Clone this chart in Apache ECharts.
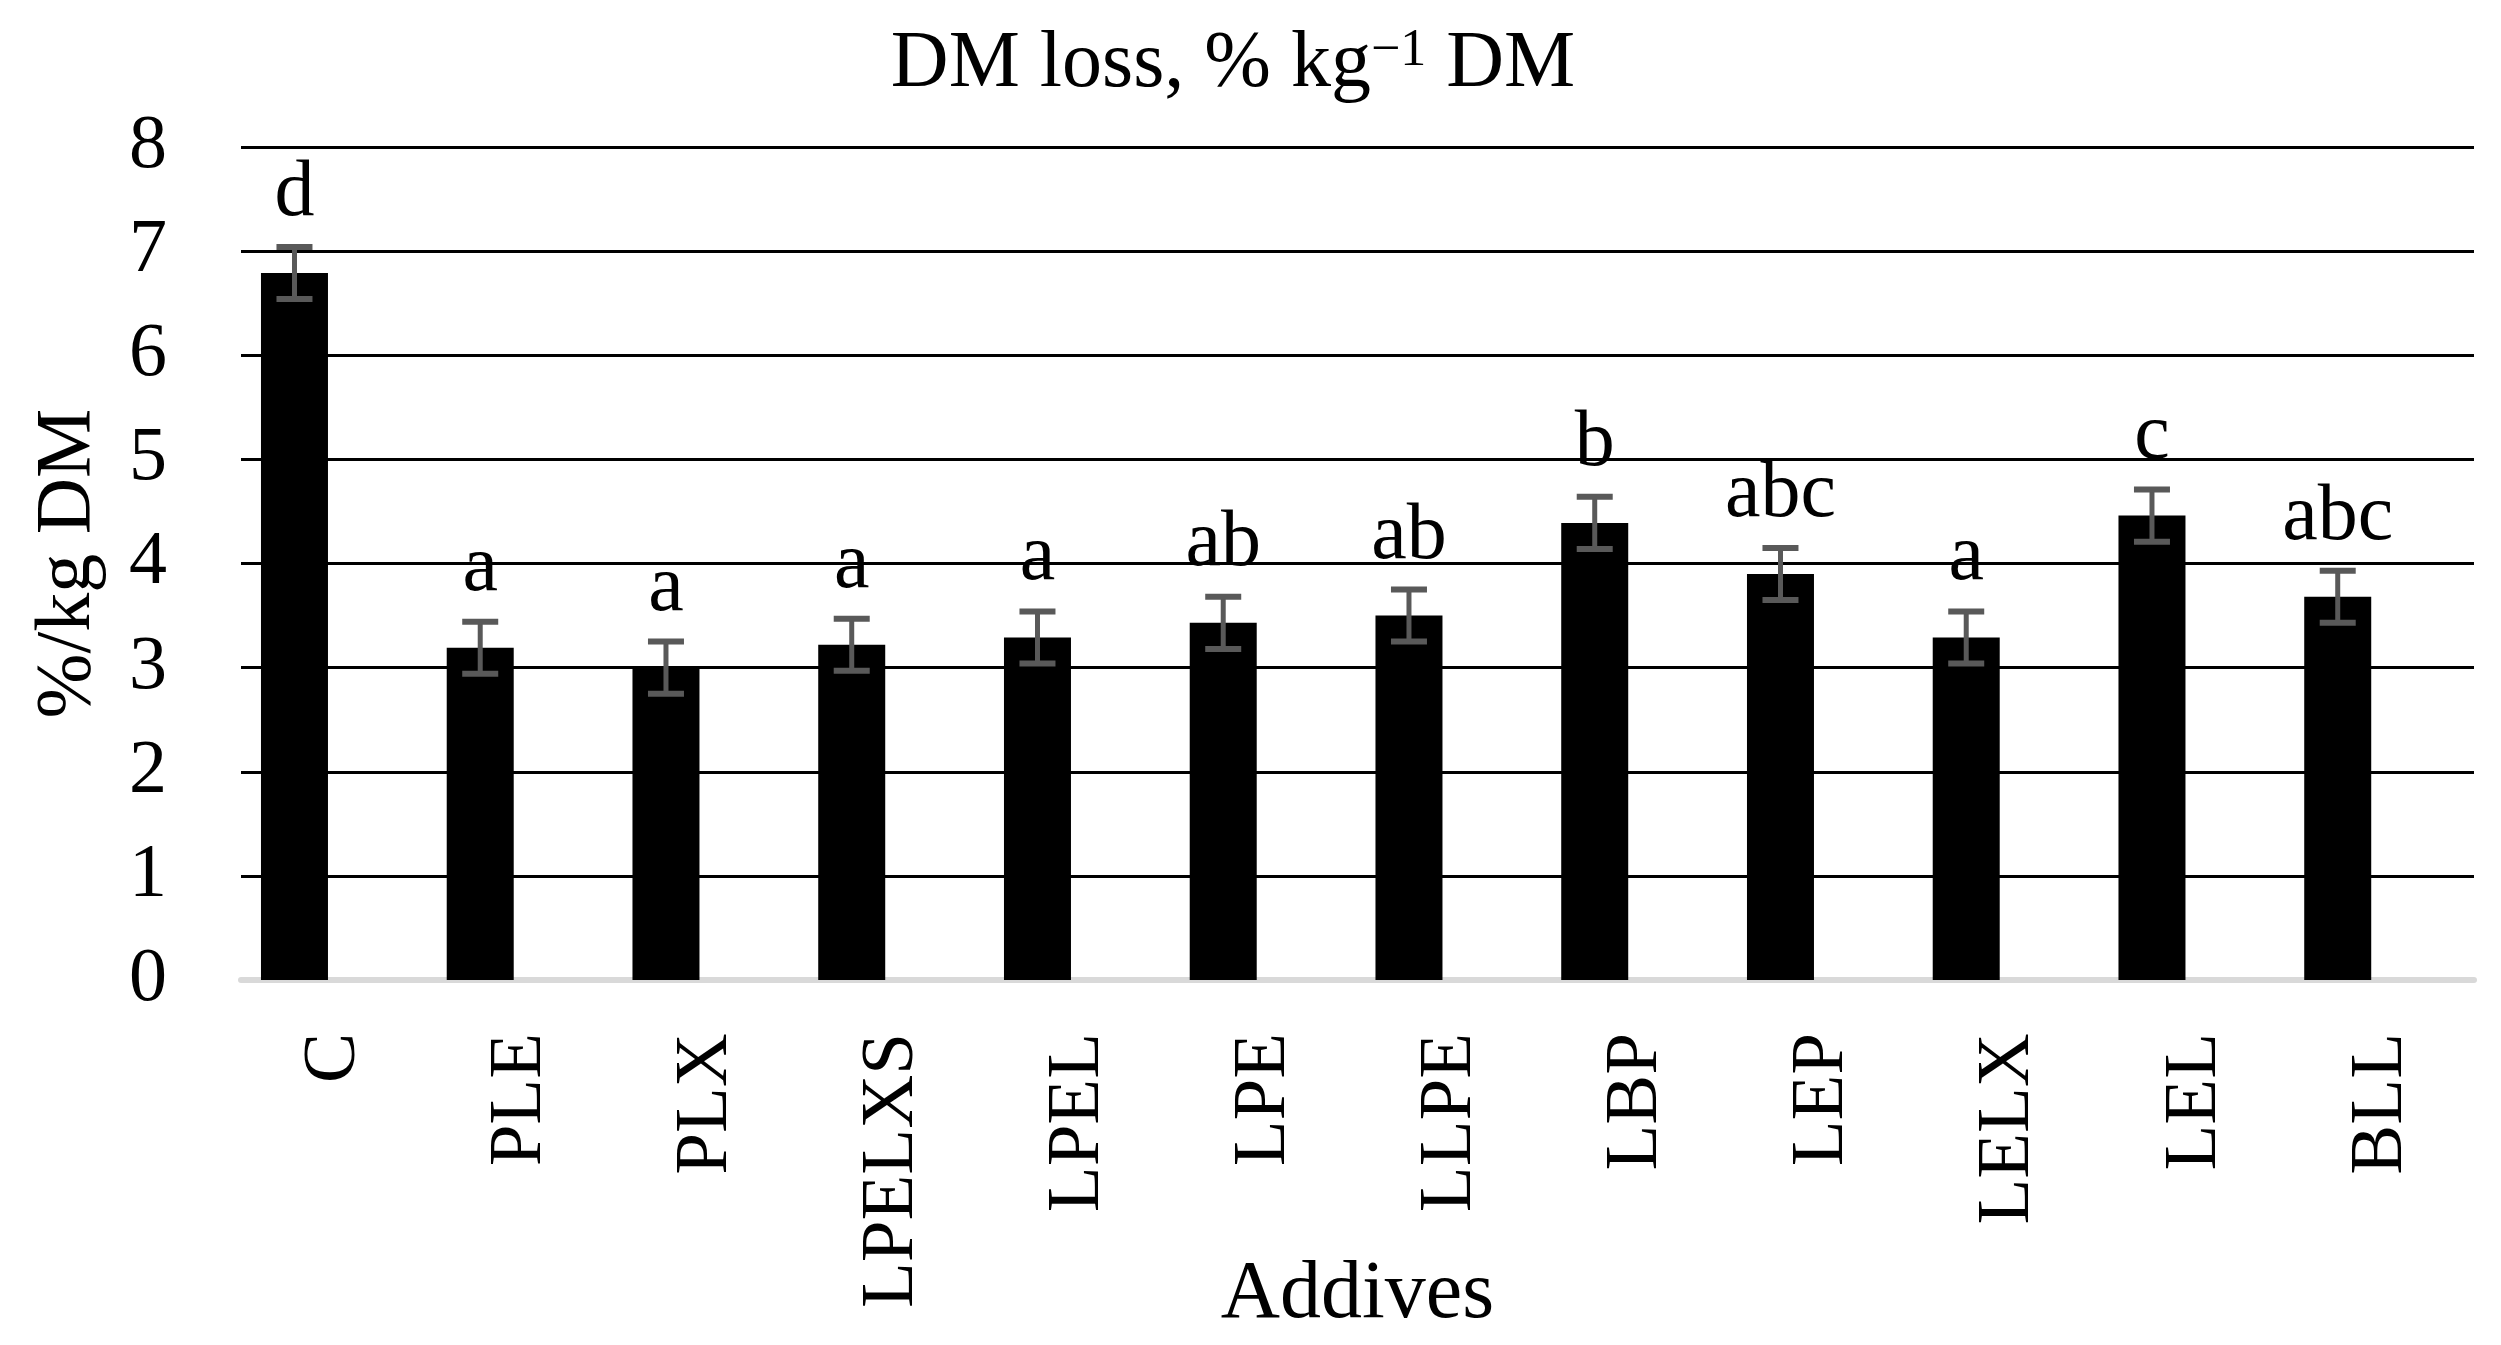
<!DOCTYPE html>
<html><head><meta charset="utf-8">
<script src="https://cdn.jsdelivr.net/npm/echarts@6/dist/echarts.min.js"></script>
<style>html,body{margin:0;padding:0;background:#fff}#c{width:2501px;height:1345px}</style>
</head><body><div id="c"></div>
<script>
const categories = ['C','PLE','PLX','LPELXS','LPEL','LPE','LLPE','LBP','LEP','LELX','LEL','BLL'];
const means = [6.79,3.19,3.00,3.22,3.29,3.43,3.50,4.39,3.90,3.29,4.46,3.68];
const errors = [0.25,0.25,0.25,0.25,0.25,0.25,0.25,0.25,0.25,0.25,0.25,0.25];
const letters = ['d','a','a','a','a','ab','ab','b','abc','a','c','abc'];
const yTicks = [0,1,2,3,4,5,6,7,8];

const FONT = '"Liberation Serif","Times New Roman",serif';
const chart = echarts.init(document.getElementById('c'), null, {renderer:'canvas'});
const option = {
  backgroundColor:'#fff',
  animation:false,
  title:{
    text:'DM loss, % kg{s|−1} DM',
    left:1228, textAlign:'center', top:20,
    textStyle:{fontSize:80, fontFamily:FONT, color:'#000', fontWeight:'normal',
      rich:{s:{fontSize:52, fontFamily:FONT, color:'#000', verticalAlign:'top'}}}
  },
  grid:[
    {left:201.6, right:70.4, top:147, bottom:365, containLabel:false, outerBoundsMode:'none'},
    {left:241, right:27, top:147, bottom:365, containLabel:false, outerBoundsMode:'none'}
  ],
  xAxis:[
    {type:'category', gridIndex:0, data:categories, show:false},
    {type:'category', gridIndex:1, data:categories,
      axisLine:{show:true, lineStyle:{color:'#d9d9d9', width:6}},
      axisTick:{show:false},
      axisLabel:{rotate:90, fontSize:75, fontFamily:FONT, color:'#000', margin:53},
      name:'Addives', nameLocation:'middle', nameGap:274, nameMoveOverlap:false,
      nameTextStyle:{fontSize:82, fontFamily:FONT, color:'#000'}
    }
  ],
  yAxis:[
    {type:'value', gridIndex:0, min:0, max:8, interval:1, show:false},
    {type:'value', gridIndex:1, min:yTicks[0], max:yTicks[yTicks.length-1], interval:1,
      axisLine:{show:false}, axisTick:{show:false},
      splitLine:{show:true, lineStyle:{color:'#000', width:3}},
      axisLabel:{fontSize:76, fontFamily:FONT, color:'#000', margin:74},
      name:'%/kg DM', nameLocation:'middle', nameRotate:90, nameGap:133, nameMoveOverlap:false,
      nameTextStyle:{fontSize:78, fontFamily:FONT, color:'#000'}
    }
  ],
  series:[
    {type:'bar', xAxisIndex:0, yAxisIndex:0, data:means, barWidth:67,
      itemStyle:{color:'#000'}, z:3},
    {type:'custom', xAxisIndex:0, yAxisIndex:0, z:4, clip:false,
      data:categories.map((c,i)=>[i, means[i], errors[i]]),
      encode:{x:0, y:1},
      renderItem:function(params, api){
        const i = api.value(0), m = api.value(1), e = api.value(2);
        const top = api.coord([i, m+e]);
        const bot = api.coord([i, m-e]);
        const x = top[0], hw = 18;
        const st = {stroke:'#595959', lineWidth:6};
        return {type:'group', children:[
          {type:'line', shape:{x1:x,y1:top[1],x2:x,y2:bot[1]}, style:{stroke:'#595959', lineWidth:5}},
          {type:'line', shape:{x1:x-hw,y1:top[1],x2:x+hw,y2:top[1]}, style:st},
          {type:'line', shape:{x1:x-hw,y1:bot[1],x2:x+hw,y2:bot[1]}, style:st},
          {type:'text', x:x, y:top[1]-53, style:{text:letters[params.dataIndex], fontSize:80,
            fontFamily:FONT, fill:'#000', align:'center', verticalAlign:'middle'}}
        ]};
      }
    }
  ]
};
chart.setOption(option);
</script>
</body></html>
